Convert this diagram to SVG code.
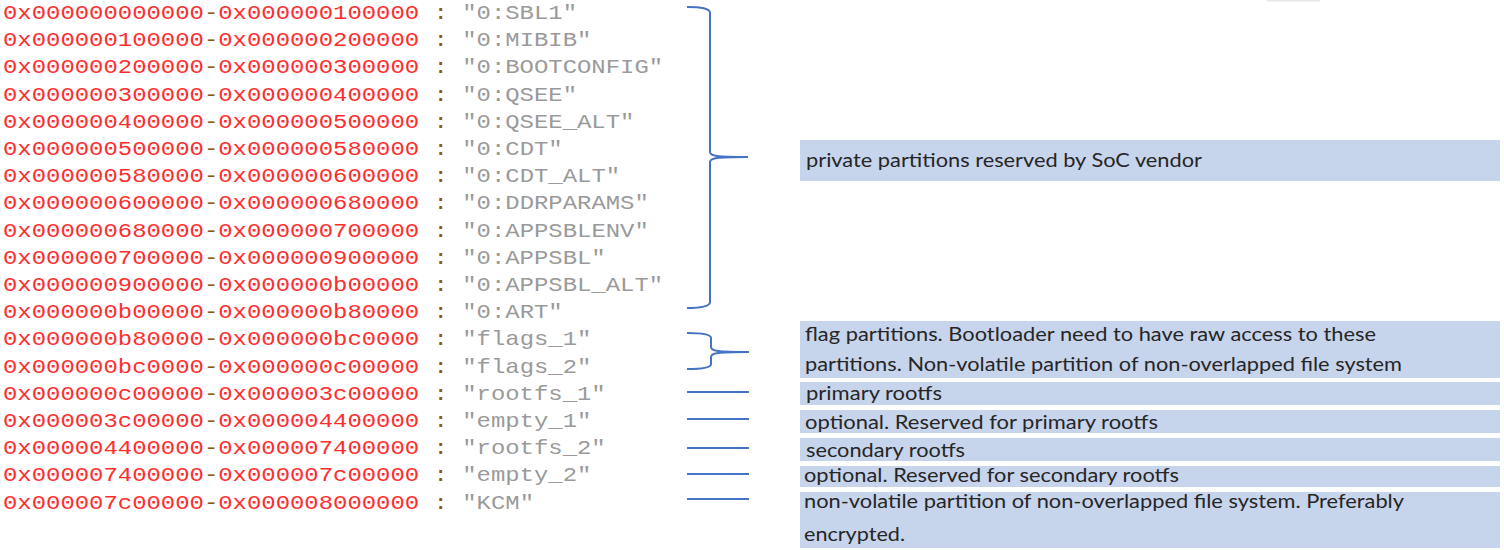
<svg xmlns="http://www.w3.org/2000/svg" width="1504" height="550" viewBox="0 0 1504 550">
<style>
.row{font-family:"Liberation Mono","DejaVu Sans Mono",monospace;font-size:21px;white-space:pre}
.a{fill:#ff2e2e}.d{fill:#8a5a16}.q{fill:#9a9a9a}
.box{fill:#c6d4ec}
.lbl{font-family:Lato,"Open Sans","Liberation Sans",sans-serif;font-size:19.5px;fill:#262626}
.br{fill:none;stroke:#4472c4;stroke-width:2}
</style>
<rect x="0" y="0" width="1504" height="550" fill="#ffffff"/>
<rect x="1267" y="0" width="53" height="1.5" fill="#e8e8e8"/>
<g id="rows">
<text class="row" x="3" y="19" textLength="574" lengthAdjust="spacingAndGlyphs"><tspan class="a">0x000000000000</tspan><tspan class="d">-</tspan><tspan class="a">0x000000100000</tspan><tspan class="d"> : </tspan><tspan class="q">"0:SBL1"</tspan></text>
<text class="row" x="3" y="46.2" textLength="588.4" lengthAdjust="spacingAndGlyphs"><tspan class="a">0x000000100000</tspan><tspan class="d">-</tspan><tspan class="a">0x000000200000</tspan><tspan class="d"> : </tspan><tspan class="q">"0:MIBIB"</tspan></text>
<text class="row" x="3" y="73.4" textLength="660.1" lengthAdjust="spacingAndGlyphs"><tspan class="a">0x000000200000</tspan><tspan class="d">-</tspan><tspan class="a">0x000000300000</tspan><tspan class="d"> : </tspan><tspan class="q">"0:BOOTCONFIG"</tspan></text>
<text class="row" x="3" y="100.6" textLength="574" lengthAdjust="spacingAndGlyphs"><tspan class="a">0x000000300000</tspan><tspan class="d">-</tspan><tspan class="a">0x000000400000</tspan><tspan class="d"> : </tspan><tspan class="q">"0:QSEE"</tspan></text>
<text class="row" x="3" y="127.8" textLength="631.4" lengthAdjust="spacingAndGlyphs"><tspan class="a">0x000000400000</tspan><tspan class="d">-</tspan><tspan class="a">0x000000500000</tspan><tspan class="d"> : </tspan><tspan class="q">"0:QSEE_ALT"</tspan></text>
<text class="row" x="3" y="155" textLength="559.7" lengthAdjust="spacingAndGlyphs"><tspan class="a">0x000000500000</tspan><tspan class="d">-</tspan><tspan class="a">0x000000580000</tspan><tspan class="d"> : </tspan><tspan class="q">"0:CDT"</tspan></text>
<text class="row" x="3" y="182.2" textLength="617.1" lengthAdjust="spacingAndGlyphs"><tspan class="a">0x000000580000</tspan><tspan class="d">-</tspan><tspan class="a">0x000000600000</tspan><tspan class="d"> : </tspan><tspan class="q">"0:CDT_ALT"</tspan></text>
<text class="row" x="3" y="209.4" textLength="645.8" lengthAdjust="spacingAndGlyphs"><tspan class="a">0x000000600000</tspan><tspan class="d">-</tspan><tspan class="a">0x000000680000</tspan><tspan class="d"> : </tspan><tspan class="q">"0:DDRPARAMS"</tspan></text>
<text class="row" x="3" y="236.6" textLength="645.8" lengthAdjust="spacingAndGlyphs"><tspan class="a">0x000000680000</tspan><tspan class="d">-</tspan><tspan class="a">0x000000700000</tspan><tspan class="d"> : </tspan><tspan class="q">"0:APPSBLENV"</tspan></text>
<text class="row" x="3" y="263.8" textLength="602.7" lengthAdjust="spacingAndGlyphs"><tspan class="a">0x000000700000</tspan><tspan class="d">-</tspan><tspan class="a">0x000000900000</tspan><tspan class="d"> : </tspan><tspan class="q">"0:APPSBL"</tspan></text>
<text class="row" x="3" y="291" textLength="660.1" lengthAdjust="spacingAndGlyphs"><tspan class="a">0x000000900000</tspan><tspan class="d">-</tspan><tspan class="a">0x000000b00000</tspan><tspan class="d"> : </tspan><tspan class="q">"0:APPSBL_ALT"</tspan></text>
<text class="row" x="3" y="318.2" textLength="559.7" lengthAdjust="spacingAndGlyphs"><tspan class="a">0x000000b00000</tspan><tspan class="d">-</tspan><tspan class="a">0x000000b80000</tspan><tspan class="d"> : </tspan><tspan class="q">"0:ART"</tspan></text>
<text class="row" x="3" y="345.4" textLength="588.4" lengthAdjust="spacingAndGlyphs"><tspan class="a">0x000000b80000</tspan><tspan class="d">-</tspan><tspan class="a">0x000000bc0000</tspan><tspan class="d"> : </tspan><tspan class="q">"flags_1"</tspan></text>
<text class="row" x="3" y="372.6" textLength="588.4" lengthAdjust="spacingAndGlyphs"><tspan class="a">0x000000bc0000</tspan><tspan class="d">-</tspan><tspan class="a">0x000000c00000</tspan><tspan class="d"> : </tspan><tspan class="q">"flags_2"</tspan></text>
<text class="row" x="3" y="399.8" textLength="602.7" lengthAdjust="spacingAndGlyphs"><tspan class="a">0x000000c00000</tspan><tspan class="d">-</tspan><tspan class="a">0x000003c00000</tspan><tspan class="d"> : </tspan><tspan class="q">"rootfs_1"</tspan></text>
<text class="row" x="3" y="427" textLength="588.4" lengthAdjust="spacingAndGlyphs"><tspan class="a">0x000003c00000</tspan><tspan class="d">-</tspan><tspan class="a">0x000004400000</tspan><tspan class="d"> : </tspan><tspan class="q">"empty_1"</tspan></text>
<text class="row" x="3" y="454.2" textLength="602.7" lengthAdjust="spacingAndGlyphs"><tspan class="a">0x000004400000</tspan><tspan class="d">-</tspan><tspan class="a">0x000007400000</tspan><tspan class="d"> : </tspan><tspan class="q">"rootfs_2"</tspan></text>
<text class="row" x="3" y="481.4" textLength="588.4" lengthAdjust="spacingAndGlyphs"><tspan class="a">0x000007400000</tspan><tspan class="d">-</tspan><tspan class="a">0x000007c00000</tspan><tspan class="d"> : </tspan><tspan class="q">"empty_2"</tspan></text>
<text class="row" x="3" y="508.6" textLength="531" lengthAdjust="spacingAndGlyphs"><tspan class="a">0x000007c00000</tspan><tspan class="d">-</tspan><tspan class="a">0x000008000000</tspan><tspan class="d"> : </tspan><tspan class="q">"KCM"</tspan></text>
</g>
<g id="connectors">
<path class="br" d="M687,7 C701,7 710,8 710,13 V152 C710,156 716,157 748,157 M748,157 C716,157 710,158 710,162 V302 C710,306 701,308 687,308"/>
<path class="br" d="M687,333 C701,333 711,334 711,338 V347 C711,351 717,352 749,352 M749,352 C717,352 711,353 711,357 V364 C711,368 701,369 687,369"/>
<line class="br" x1="687" y1="392" x2="749" y2="392"/>
<line class="br" x1="687" y1="419" x2="749" y2="419"/>
<line class="br" x1="687" y1="448" x2="749" y2="448"/>
<line class="br" x1="687" y1="474" x2="749" y2="474"/>
<line class="br" x1="687" y1="499" x2="749" y2="499"/>
</g>
<g id="n-private">
<rect class="box" x="800" y="140" width="700" height="41"/>
<text class="lbl" x="806" y="167" textLength="396" lengthAdjust="spacingAndGlyphs">private partitions reserved by SoC vendor</text>
</g>
<g id="n-flags">
<rect class="box" x="800" y="321" width="700" height="57"/>
<text class="lbl" x="805" y="341" textLength="571" lengthAdjust="spacingAndGlyphs">flag partitions. Bootloader need to have raw access to these</text>
<text class="lbl" x="805" y="371" textLength="597" lengthAdjust="spacingAndGlyphs">partitions. Non-volatile partition of non-overlapped file system</text>
</g>
<g id="n-rootfs1">
<rect class="box" x="800" y="382" width="700" height="23"/>
<text class="lbl" x="806" y="400" textLength="136" lengthAdjust="spacingAndGlyphs">primary rootfs</text>
</g>
<g id="n-empty1">
<rect class="box" x="800" y="410" width="700" height="23"/>
<text class="lbl" x="805" y="429" textLength="353" lengthAdjust="spacingAndGlyphs">optional. Reserved for primary rootfs</text>
</g>
<g id="n-rootfs2">
<rect class="box" x="800" y="438" width="700" height="23"/>
<text class="lbl" x="806" y="457" textLength="159" lengthAdjust="spacingAndGlyphs">secondary rootfs</text>
</g>
<g id="n-empty2">
<rect class="box" x="800" y="466" width="700" height="21"/>
<text class="lbl" x="804" y="482" textLength="375" lengthAdjust="spacingAndGlyphs">optional. Reserved for secondary rootfs</text>
</g>
<g id="n-kcm">
<rect class="box" x="800" y="492" width="700" height="56"/>
<text class="lbl" x="804" y="508" textLength="600" lengthAdjust="spacingAndGlyphs">non-volatile partition of non-overlapped file system. Preferably</text>
<text class="lbl" x="804" y="541" textLength="101" lengthAdjust="spacingAndGlyphs">encrypted.</text>
</g>
</svg>
